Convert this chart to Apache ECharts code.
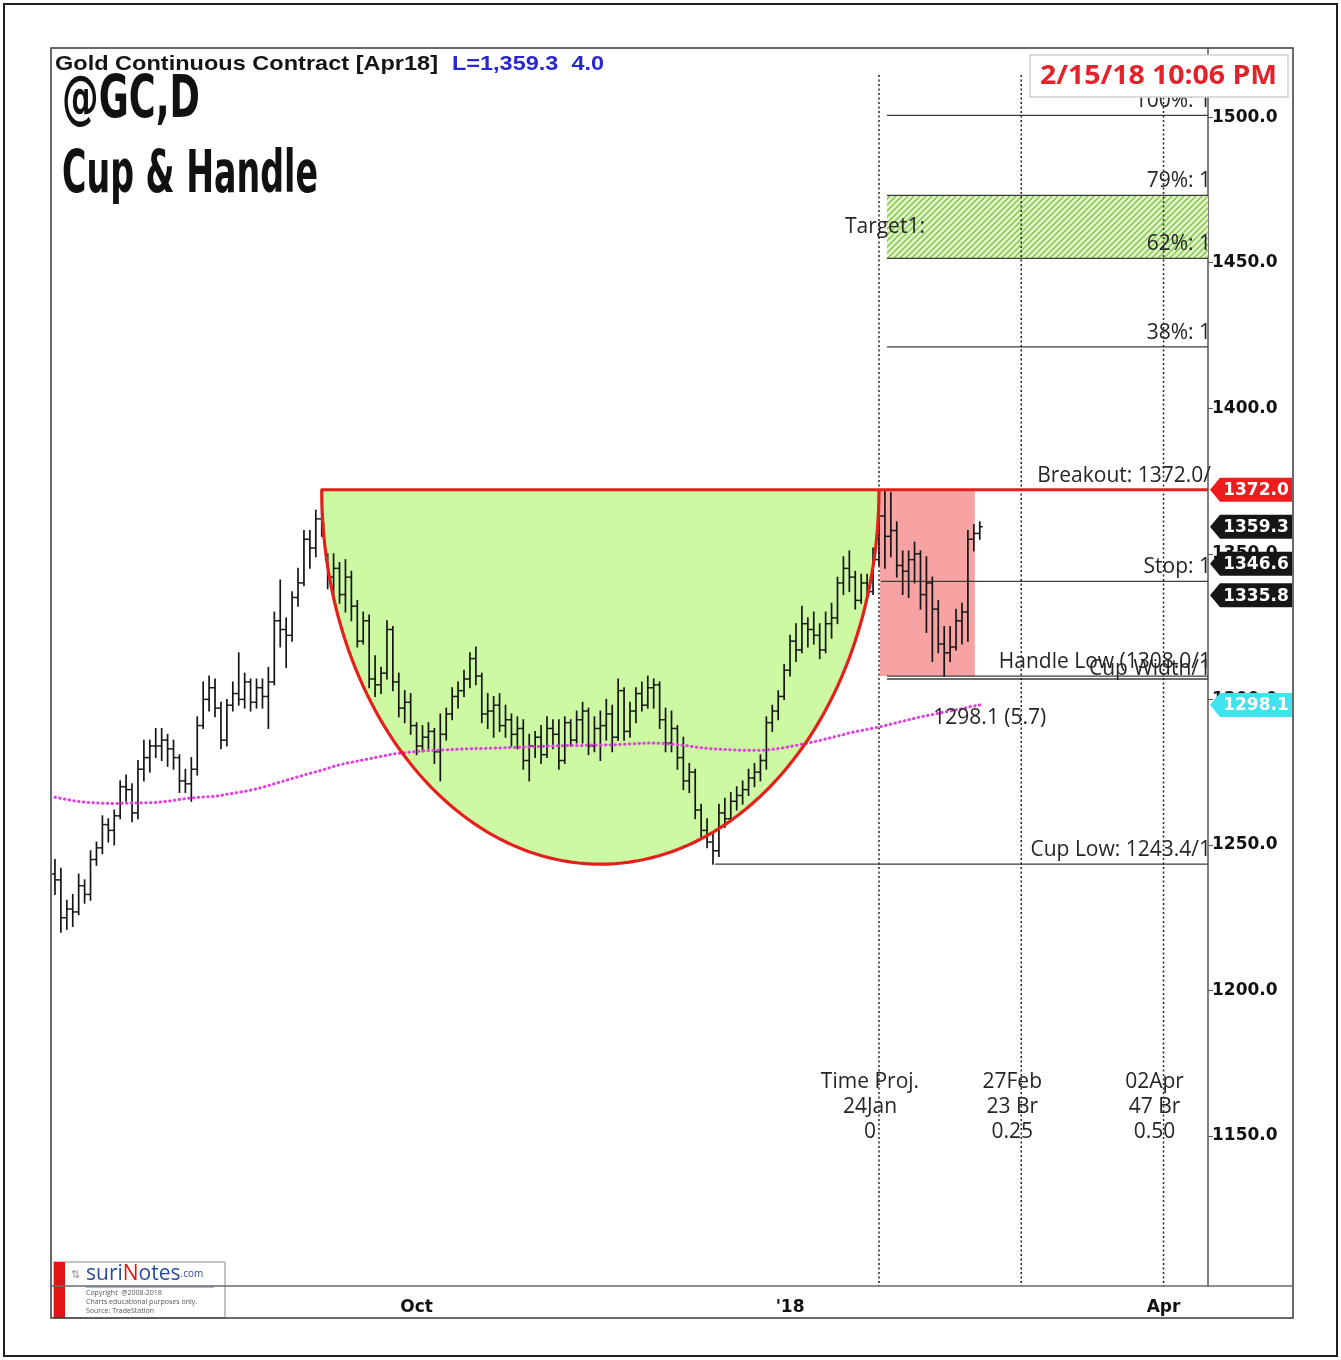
<!DOCTYPE html>
<html>
<head>
<meta charset="utf-8">
<title>@GC,D Cup & Handle</title>
<script src="https://cdn.jsdelivr.net/npm/echarts@6/dist/echarts.min.js"></script>
<style>
  html, body { margin: 0; padding: 0; background: #fff; }
  #main { width: 1341px; height: 1360px; }
</style>
</head>
<body>
<div id="main"></div>
<script>
// trading calendar (weekdays, exchange holidays removed) up to the end of the projection window
const firstDay = '2017-07-06';
const lastDay = '2018-04-11';
const holidays = ['2017-07-04', '2017-09-04', '2017-11-23', '2017-12-25', '2018-01-01', '2018-01-15'];
const monthLabels = { '2017-10-02': 'Oct', '2018-01-02': "'18", '2018-04-02': 'Apr' };

// daily bars, Jul 6 2017 .. Feb 16 2018
const open = [
  1240, 1238, 1225, 1228, 1227, 1236, 1233, 1245, 1249, 1257,
  1255, 1260, 1270, 1269, 1261, 1276, 1280, 1284, 1284, 1286,
  1283, 1280, 1272, 1271, 1276, 1291, 1300, 1304, 1297, 1286,
  1298, 1302, 1300, 1306, 1299, 1304, 1301, 1306, 1327, 1324,
  1322, 1335, 1340, 1355, 1352, 1362, 1348, 1342, 1345, 1336,
  1342, 1332, 1320, 1327, 1307, 1305, 1309, 1324, 1306, 1297,
  1299, 1291, 1284, 1287, 1289, 1282, 1288, 1295, 1301, 1303,
  1307, 1314, 1308, 1295, 1296, 1298, 1291, 1293, 1288, 1290,
  1279, 1284, 1287, 1281, 1290, 1288, 1279, 1292, 1286, 1293,
  1296, 1284, 1290, 1291, 1295, 1287, 1303, 1289, 1296, 1302,
  1298, 1304, 1305, 1293, 1285, 1290, 1280, 1272, 1275, 1262,
  1255, 1251, 1248, 1261, 1259, 1265, 1267, 1269, 1273, 1275,
  1279, 1292, 1296, 1301, 1310, 1320, 1317, 1326, 1324, 1322,
  1317, 1326, 1328, 1340, 1345, 1342, 1334, 1340, 1337, 1348,
  1363, 1356, 1358, 1346, 1344, 1348, 1350, 1336, 1340, 1331,
  1319, 1316, 1318, 1327, 1330, 1355, 1357
];
const high = [
  1245, 1242, 1231, 1233, 1240, 1238, 1248, 1251, 1260, 1259,
  1262, 1272, 1274, 1271, 1279, 1286, 1286, 1290, 1290, 1288,
  1286, 1281, 1276, 1280, 1294, 1306, 1308, 1307, 1299, 1300,
  1306, 1316, 1309, 1307, 1307, 1307, 1311, 1330, 1341, 1328,
  1337, 1345, 1358, 1358, 1365, 1372, 1350, 1350, 1347, 1348,
  1344, 1334, 1330, 1329, 1315, 1311, 1327, 1325, 1309, 1303,
  1302, 1292, 1291, 1292, 1290, 1295, 1297, 1304, 1306, 1310,
  1316, 1318, 1309, 1302, 1301, 1302, 1298, 1295, 1294, 1293,
  1288, 1289, 1291, 1294, 1293, 1293, 1294, 1293, 1296, 1299,
  1297, 1294, 1296, 1300, 1298, 1307, 1304, 1299, 1304, 1306,
  1308, 1307, 1306, 1297, 1296, 1291, 1287, 1278, 1276, 1264,
  1259, 1254, 1264, 1266, 1268, 1270, 1272, 1276, 1278, 1281,
  1294, 1298, 1303, 1312, 1322, 1326, 1332, 1328, 1330, 1326,
  1330, 1333, 1342, 1349, 1351, 1344, 1343, 1343, 1352, 1366,
  1372, 1371, 1361, 1351, 1351, 1354, 1351, 1349, 1342, 1334,
  1325, 1325, 1331, 1333, 1358, 1360, 1361
];
const low = [
  1233, 1220, 1221, 1222, 1226, 1230, 1231, 1243, 1247, 1251,
  1250, 1259, 1265, 1258, 1259, 1272, 1275, 1280, 1279, 1277,
  1276, 1268, 1268, 1265, 1274, 1290, 1296, 1294, 1283, 1284,
  1296, 1298, 1297, 1296, 1297, 1297, 1290, 1305, 1318, 1311,
  1320, 1332, 1339, 1345, 1349, 1356, 1338, 1334, 1333, 1330,
  1327, 1318, 1319, 1304, 1301, 1302, 1307, 1303, 1294, 1292,
  1288, 1281, 1282, 1283, 1278, 1272, 1286, 1293, 1297, 1301,
  1304, 1305, 1292, 1290, 1287, 1289, 1287, 1284, 1283, 1276,
  1272, 1280, 1278, 1280, 1283, 1276, 1278, 1284, 1285, 1285,
  1281, 1282, 1279, 1286, 1282, 1286, 1286, 1287, 1292, 1296,
  1297, 1297, 1290, 1282, 1282, 1276, 1269, 1268, 1259, 1252,
  1249, 1243.4, 1246, 1256, 1258, 1262, 1264, 1267, 1270, 1272,
  1276, 1289, 1293, 1300, 1308, 1313, 1316, 1318, 1319, 1314,
  1316, 1321, 1326, 1336, 1337, 1331, 1333, 1334, 1336, 1346,
  1345, 1349, 1342, 1336, 1335, 1340, 1331, 1323, 1313, 1316,
  1308, 1313, 1317, 1319, 1320, 1351, 1355
];
const close = [
  1238, 1225, 1228, 1227, 1236, 1233, 1245, 1249, 1257, 1255,
  1260, 1270, 1269, 1261, 1276, 1280, 1284, 1284, 1286, 1283,
  1280, 1272, 1271, 1276, 1291, 1300, 1304, 1297, 1286, 1298,
  1302, 1300, 1306, 1299, 1304, 1301, 1306, 1327, 1324, 1322,
  1335, 1340, 1355, 1352, 1362, 1360, 1342, 1345, 1336, 1342,
  1332, 1320, 1327, 1307, 1305, 1309, 1324, 1306, 1297, 1299,
  1291, 1284, 1287, 1289, 1282, 1288, 1295, 1301, 1303, 1307,
  1314, 1308, 1295, 1296, 1298, 1291, 1293, 1288, 1290, 1279,
  1284, 1287, 1281, 1290, 1288, 1279, 1292, 1286, 1293, 1296,
  1284, 1290, 1291, 1295, 1287, 1303, 1289, 1296, 1302, 1298,
  1304, 1305, 1293, 1285, 1290, 1280, 1272, 1275, 1262, 1255,
  1251, 1248, 1261, 1259, 1265, 1267, 1269, 1273, 1275, 1279,
  1292, 1296, 1301, 1310, 1320, 1317, 1326, 1324, 1322, 1317,
  1326, 1328, 1340, 1345, 1342, 1334, 1340, 1337, 1348, 1363,
  1356, 1358, 1346, 1344, 1348, 1350, 1336, 1340, 1331, 1319,
  1316, 1318, 1327, 1330, 1355, 1357, 1359.3
];
// moving average (magenta dotted)
const movAvg = [
  1266.4, 1266.0, 1265.6, 1265.2, 1264.9, 1264.7, 1264.5, 1264.4, 1264.3, 1264.3, 1264.2,
  1264.3, 1264.3, 1264.4, 1264.4, 1264.5, 1264.5, 1264.6, 1264.8, 1265.0, 1265.3, 1265.6,
  1265.9, 1266.1, 1266.3, 1266.5, 1266.6, 1266.7, 1267.0, 1267.4, 1267.7, 1268.1, 1268.4,
  1268.8, 1269.3, 1269.8, 1270.4, 1271.0, 1271.6, 1272.2, 1272.8, 1273.4, 1274.0, 1274.6,
  1275.1, 1275.7, 1276.3, 1277.0, 1277.5, 1278.0, 1278.4, 1278.8, 1279.2, 1279.6, 1280.0,
  1280.4, 1280.8, 1281.2, 1281.5, 1281.7, 1281.9, 1282.1, 1282.3, 1282.4, 1282.5, 1282.6,
  1282.7, 1282.8, 1282.9, 1283.0, 1283.0, 1283.1, 1283.1, 1283.2, 1283.3, 1283.3, 1283.4,
  1283.5, 1283.5, 1283.6, 1283.7, 1283.8, 1283.8, 1284.0, 1284.0, 1284.1, 1284.1, 1284.2,
  1284.2, 1284.2, 1284.3, 1284.3, 1284.3, 1284.3, 1284.4, 1284.5, 1284.6, 1284.7, 1284.8,
  1284.9, 1285.0, 1285.0, 1284.9, 1284.8, 1284.6, 1284.4, 1284.2, 1284.0, 1283.6, 1283.4,
  1283.2, 1283.0, 1282.9, 1282.8, 1282.7, 1282.6, 1282.5, 1282.5, 1282.5, 1282.5, 1282.6,
  1282.8, 1283.1, 1283.4, 1283.8, 1284.2, 1284.6, 1285.0, 1285.4, 1285.9, 1286.4, 1286.9,
  1287.4, 1287.9, 1288.5, 1288.9, 1289.3, 1289.7, 1290.1, 1290.5, 1291.0, 1291.5, 1292.0,
  1292.5, 1293.0, 1293.5, 1294.0, 1294.4, 1294.8, 1295.2, 1295.6, 1296.0, 1296.4, 1296.8,
  1297.3, 1297.7, 1298.1
];

// y axis ticks
const yTicks = [1150, 1200, 1250, 1300, 1350, 1400, 1450, 1500];
const yMin = 1098.5, yMax = 1523.4;

// pattern points
const cupStart = '2017-09-08', cupEnd = '2018-01-24';
const breakout = 1372.0, cupLow = 1243.4;
const handleStart = '2018-01-24', handleEnd = '2018-02-15', handleLow = 1308.0;
const targetFrom = '2018-01-25';
const targetZone = [1451.5, 1473.1];

// thin horizontal levels [start date, price]
const levelLines = [
  ['2018-01-25', 1500.6], ['2018-01-25', 1473.1], ['2018-01-25', 1451.5], ['2018-01-25', 1421.1],
  ['2018-01-24', 1340.5], ['2018-01-25', 1308.0], ['2018-01-25', 1307.0], ['2017-12-12', 1243.4]
];
// labels sitting on the levels, ending at the price axis
const levelLabelValues = [1500.6, 1473.1, 1451.5, 1421.1, 1372.0, 1340.5, 1308.0, 1307.0, 1243.4];
const levelLabelTexts = ['100%: 1', '79%: 1', '62%: 1', '38%: 1', 'Breakout: 1372.0/', 'Stop: 1',
  'Handle Low (1308.0/1', 'Cup Width/1', 'Cup Low: 1243.4/1'];

// time projections
const projDates = ['2018-01-24', '2018-02-27', '2018-04-02'];
const projTexts = ['Time Proj.\n24Jan\n0', '27Feb\n23 Br\n0.25', '02Apr\n47 Br\n0.50'];

// price markers on the right axis
const tagValues = [1372.0, 1359.3, 1346.6, 1335.8, 1298.1];
const tagColors = ['#ee1c1c', '#161616', '#161616', '#161616', '#3fe3ee'];

// ---------------------------------------------------------------
function buildDays(from, to) {
  const out = [];
  const d = new Date(from + 'T00:00:00Z');
  const end = new Date(to + 'T00:00:00Z');
  while (d <= end) {
    const s = d.toISOString().slice(0, 10);
    const wd = d.getUTCDay();
    if (wd !== 0 && wd !== 6 && holidays.indexOf(s) < 0) out.push(s);
    d.setUTCDate(d.getUTCDate() + 1);
  }
  return out;
}
const days = buildDays(firstDay, lastDay);
const idx = d => days.indexOf(d);
const monthStart = new Set(days.filter((d, i) => i > 0 && d.slice(5, 7) !== days[i - 1].slice(5, 7)));

const ohlc = open.map((o, i) => [i, o, high[i], low[i], close[i]]);

const noteFont = '"Open Sans", sans-serif';
const axisFont = '"DejaVu Sans", sans-serif';
const noteColor = '#262626';
const noteSize = 21;

// hatch for the target zone
const hatch = document.createElement('canvas');
hatch.width = 6; hatch.height = 6;
(function () {
  const c = hatch.getContext('2d');
  c.fillStyle = '#e4f7cf';
  c.fillRect(0, 0, 6, 6);
  c.strokeStyle = '#8acb55';
  c.lineWidth = 1.6;
  c.beginPath();
  c.moveTo(-1, 7); c.lineTo(7, -1);
  c.moveTo(-1, 1); c.lineTo(1, -1);
  c.moveTo(5, 7); c.lineTo(7, 5);
  c.stroke();
})();

const mctx = document.createElement('canvas').getContext('2d');
function fit(text, font, width) {
  mctx.font = font;
  return width / mctx.measureText(text).width;
}

function renderBar(params, api) {
  const i = api.value(0);
  const pO = api.coord([i, api.value(1)]);
  const pH = api.coord([i, api.value(2)]);
  const pL = api.coord([i, api.value(3)]);
  const pC = api.coord([i, api.value(4)]);
  const t = api.size([1, 0])[0] * 0.5;
  const x = pH[0];
  return {
    type: 'group',
    children: [
      { type: 'line', shape: { x1: x, y1: pH[1] - 0.5, x2: x, y2: pL[1] + 0.5 }, style: { stroke: '#151515', lineWidth: 1.7 } },
      { type: 'line', shape: { x1: x - t, y1: pO[1], x2: x, y2: pO[1] }, style: { stroke: '#151515', lineWidth: 1.5 } },
      { type: 'line', shape: { x1: x, y1: pC[1], x2: x + t, y2: pC[1] }, style: { stroke: '#151515', lineWidth: 1.5 } }
    ]
  };
}

function cupPoints(api) {
  const a = api.coord([api.value(0), api.value(1)]);
  const b = api.coord([api.value(2), api.value(1)]);
  const bottom = api.coord([api.value(0), api.value(3)])[1];
  const cx = (a[0] + b[0]) / 2, rx = (b[0] - a[0]) / 2, ry = bottom - a[1];
  const pts = [];
  for (let k = 0; k <= 120; k++) {
    const t = Math.PI * k / 120;
    pts.push([cx - rx * Math.cos(t), a[1] + ry * Math.sin(t)]);
  }
  return { a, pts };
}

const chart = echarts.init(document.getElementById('main'));

const option = {
  animation: false,
  backgroundColor: '#fff',
  grid: { left: 52, top: 49, right: 133, bottom: 74 },
  xAxis: {
    type: 'category',
    data: days,
    boundaryGap: true,
    axisLine: { lineStyle: { color: '#6a6a6a', width: 1.5 } },
    axisTick: {
      alignWithLabel: true,
      interval: (i, v) => monthStart.has(v),
      length: 5,
      lineStyle: { color: '#777' }
    },
    axisLabel: {
      interval: (i, v) => !!monthLabels[v],
      formatter: v => monthLabels[v] || '',
      fontFamily: axisFont, fontWeight: 'bold', fontSize: 17, color: '#111', margin: 13
    },
    splitLine: { show: false }
  },
  yAxis: {
    type: 'value',
    position: 'right',
    min: yMin, max: yMax,
    axisLine: { show: true, lineStyle: { color: '#555', width: 1.5 } },
    axisTick: { show: true, customValues: yTicks, length: 5, lineStyle: { color: '#555' } },
    axisLabel: {
      customValues: yTicks,
      formatter: v => v.toFixed(1),
      fontFamily: axisFont, fontWeight: 'bold', fontSize: 17, color: '#111', margin: 4
    },
    splitLine: { show: false }
  },
  series: [
    { // cup body
      type: 'custom', z: 1, silent: true, clip: false,
      data: [[idx(cupStart), breakout, idx(cupEnd), cupLow]],
      encode: { x: [0, 2], y: [1, 3] },
      renderItem: (params, api) => ({ type: 'polygon', shape: { points: cupPoints(api).pts }, style: { fill: '#ccf9a1' } })
    },
    { // handle box
      type: 'custom', z: 1, silent: true,
      data: [[idx(handleStart), breakout, idx(handleEnd), handleLow]],
      encode: { x: [0, 2], y: [1, 3] },
      renderItem: (params, api) => {
        const a = api.coord([api.value(0), api.value(1)]);
        const b = api.coord([api.value(2), api.value(3)]);
        return { type: 'rect', shape: { x: a[0] + 1, y: a[1], width: b[0] - a[0], height: b[1] - a[1] }, style: { fill: '#f7a3a3' } };
      }
    },
    { // target zone
      type: 'custom', z: 1, silent: true, clip: false,
      data: [[idx(targetFrom), targetZone[1], targetZone[0]]],
      encode: { x: 0, y: [1, 2] },
      renderItem: (params, api) => {
        const a = api.coord([api.value(0), api.value(1)]);
        const b = api.coord([api.value(0), api.value(2)]);
        const right = params.coordSys.x + params.coordSys.width;
        return { type: 'rect', shape: { x: a[0] + 2, y: a[1], width: right - a[0] - 2, height: b[1] - a[1] },
          style: { fill: { image: hatch, repeat: 'repeat' } } };
      }
    },
    { // thin level lines
      type: 'custom', z: 2, silent: true, clip: false,
      data: levelLines.map(l => [idx(l[0]), l[1]]),
      encode: { x: 0, y: 1 },
      renderItem: (params, api) => {
        const p = api.coord([api.value(0), api.value(1)]);
        const right = params.coordSys.x + params.coordSys.width;
        return { type: 'line', shape: { x1: p[0] + 2, y1: p[1], x2: right, y2: p[1] }, style: { stroke: '#3c3c3c', lineWidth: 1.3 } };
      }
    },
    { // time projection verticals + labels
      type: 'custom', z: 2, silent: true, clip: false,
      data: projDates.map(d => [idx(d), 1173]),
      encode: { x: 0, y: 1 },
      renderItem: (params, api) => {
        const p = api.coord([api.value(0), api.value(1)]);
        const top = api.coord([api.value(0), 1514.5])[1];
        const bottom = params.coordSys.y + params.coordSys.height;
        return {
          type: 'group',
          children: [
            { type: 'line', shape: { x1: p[0], y1: top, x2: p[0], y2: bottom }, style: { stroke: '#222', lineWidth: 1.5, lineDash: [2, 2.5] } },
            { type: 'text', z2: 5, style: { text: projTexts[params.dataIndex], x: p[0] - 9, y: p[1],
                align: 'center', textAlign: 'center', verticalAlign: 'top', textVerticalAlign: 'top',
                fontFamily: noteFont, fontSize: noteSize, lineHeight: 25, fill: noteColor } }
          ]
        };
      }
    },
    { // price bars
      type: 'custom', z: 3, silent: true,
      data: ohlc,
      encode: { x: 0, y: [1, 2, 3, 4] },
      renderItem: renderBar
    },
    { // moving average
      type: 'line', z: 4, silent: true,
      data: movAvg,
      showSymbol: false,
      lineStyle: { color: '#e23ee2', width: 3, type: [0.5, 4.3], cap: 'round' }
    },
    { // cup outline + breakout line
      type: 'custom', z: 5, silent: true, clip: false,
      data: [[idx(cupStart), breakout, idx(cupEnd), cupLow]],
      encode: { x: [0, 2], y: [1, 3] },
      renderItem: (params, api) => {
        const c = cupPoints(api);
        const right = params.coordSys.x + params.coordSys.width;
        return {
          type: 'group',
          children: [
            { type: 'polyline', shape: { points: c.pts }, style: { stroke: '#e3201b', lineWidth: 3.2, fill: null } },
            { type: 'line', shape: { x1: c.a[0] - 1, y1: c.a[1], x2: right, y2: c.a[1] }, style: { stroke: '#e3201b', lineWidth: 3 } }
          ]
        };
      }
    },
    { // level labels
      type: 'custom', z: 6, silent: true, clip: false,
      data: levelLabelValues.map(v => [0, v]),
      encode: { x: 0, y: 1 },
      renderItem: (params, api) => {
        const p = api.coord([0, api.value(1)]);
        const right = params.coordSys.x + params.coordSys.width;
        const dy = params.dataIndex === 7 ? -10 : -14;
        return { type: 'text', style: { text: levelLabelTexts[params.dataIndex], x: right + 3, y: p[1] + dy,
          align: 'right', textAlign: 'right', verticalAlign: 'middle', textVerticalAlign: 'middle',
          fontFamily: noteFont, fontSize: noteSize, fill: noteColor } };
      }
    },
    { // free notes
      type: 'custom', z: 6, silent: true, clip: false,
      data: [[idx(targetFrom), (targetZone[0] + targetZone[1]) / 2], [idx('2018-02-06'), movAvg[movAvg.length - 1]]],
      encode: { x: 0, y: 1 },
      renderItem: (params, api) => {
        const p = api.coord([api.value(0), api.value(1)]);
        if (params.dataIndex === 0) {
          return { type: 'text', style: { text: 'Target1:', x: p[0], y: p[1], align: 'center', textAlign: 'center',
            verticalAlign: 'middle', textVerticalAlign: 'middle', fontFamily: noteFont, fontSize: noteSize, fill: noteColor } };
        }
        return { type: 'text', style: { text: movAvg[movAvg.length - 1].toFixed(1) + ' (5.7)', x: p[0] + 1, y: p[1] + 13,
          align: 'left', textAlign: 'left', verticalAlign: 'middle', textVerticalAlign: 'middle',
          fontFamily: noteFont, fontSize: noteSize, fill: noteColor } };
      }
    },
    { // right-axis price tags
      type: 'custom', z: 7, silent: true, clip: false,
      data: tagValues.map(v => [0, v]),
      encode: { x: 0, y: 1 },
      renderItem: (params, api) => {
        const y = api.coord([0, api.value(1)])[1];
        const x0 = params.coordSys.x + params.coordSys.width + 2;
        const h = 12;
        return {
          type: 'group',
          children: [
            { type: 'polygon', shape: { points: [[x0, y], [x0 + 10, y - h], [x0 + 82, y - h], [x0 + 82, y + h], [x0 + 10, y + h]] },
              style: { fill: tagColors[params.dataIndex] } },
            { type: 'text', style: { text: api.value(1).toFixed(1), x: x0 + 46, y: y + 1, align: 'center', textAlign: 'center',
              verticalAlign: 'middle', textVerticalAlign: 'middle', fontFamily: axisFont, fontWeight: 'bold', fontSize: 17, fill: '#fff' } }
          ]
        };
      }
    }
  ],
  graphic: []
};

const titleFont = 'bold 21px "Liberation Sans", Arial, sans-serif';
const bigFont = 'bold 58px "DejaVu Sans Condensed", "DejaVu Sans", sans-serif';
const dateFont = 'bold 26px "Open Sans", sans-serif';
const headerText = 'Gold Continuous Contract [Apr18]';
const lastText = 'L=1,359.3  4.0';

option.graphic = [
  { type: 'rect', z: 100, shape: { x: 4, y: 4, width: 1333, height: 1352 }, style: { fill: null, stroke: '#1e1e1e', lineWidth: 2 } },
  { type: 'rect', z: 100, shape: { x: 51, y: 48, width: 1242, height: 1270 }, style: { fill: null, stroke: '#3a3a3a', lineWidth: 1.5 } },
  { type: 'line', z: 100, shape: { x1: 1208, y1: 1286, x2: 1293, y2: 1286 }, style: { stroke: '#6a6a6a', lineWidth: 1.5 } },
  { type: 'text', z: 100, x: 55, y: 64, scaleX: fit(headerText, titleFont, 383),
    style: { text: headerText, x: 0, y: 0, font: titleFont, fill: '#151515', verticalAlign: 'middle', textVerticalAlign: 'middle' } },
  { type: 'text', z: 100, x: 452, y: 64, scaleX: fit(lastText, titleFont, 152),
    style: { text: lastText, x: 0, y: 0, font: titleFont, fill: '#2727d0', verticalAlign: 'middle', textVerticalAlign: 'middle' } },
  { type: 'text', z: 100, x: 62, y: 102, scaleX: fit('@GC,D', bigFont, 138),
    style: { text: '@GC,D', x: 0, y: 0, font: bigFont, fill: '#111', verticalAlign: 'middle', textVerticalAlign: 'middle' } },
  { type: 'text', z: 100, x: 62, y: 177, scaleX: fit('Cup & Handle', bigFont, 256),
    style: { text: 'Cup & Handle', x: 0, y: 0, font: bigFont, fill: '#111', verticalAlign: 'middle', textVerticalAlign: 'middle' } },
  { type: 'rect', z: 100, shape: { x: 1030, y: 55, width: 258, height: 42 }, style: { fill: '#fff', stroke: '#d0d0d0', lineWidth: 1.5 } },
  { type: 'text', z: 101, x: 1040, y: 77, scaleX: fit('2/15/18 10:06 PM', dateFont, 237),
    style: { text: '2/15/18 10:06 PM', x: 0, y: 0, font: dateFont, fill: '#e3222a', verticalAlign: 'middle', textVerticalAlign: 'middle' } },
  { type: 'group', z: 100, x: 54, y: 1262, children: [
    { type: 'rect', shape: { x: 0, y: 0, width: 171, height: 56 }, style: { fill: '#fff', stroke: '#8a8a8a', lineWidth: 1 } },
    { type: 'rect', shape: { x: 0, y: 0, width: 11, height: 56 }, style: { fill: '#e11515' } },
    { type: 'text', style: { text: '⇅', x: 17, y: 13, fill: '#9a9a9a', fontSize: 11, verticalAlign: 'middle', textVerticalAlign: 'middle' } },
    { type: 'text', style: { text: '{a|suri}{b|N}{a|otes}{c|.com}', x: 32, y: 12, verticalAlign: 'middle', textVerticalAlign: 'middle',
      rich: {
        a: { fontFamily: noteFont, fontSize: 21, fill: '#2b4c9c', color: '#2b4c9c' },
        b: { fontFamily: noteFont, fontSize: 21, fill: '#e11515', color: '#e11515' },
        c: { fontFamily: noteFont, fontSize: 10, fill: '#2b4c9c', color: '#2b4c9c' }
      } } },
    { type: 'line', shape: { x1: 32, y1: 25, x2: 160, y2: 25 }, style: { stroke: '#5f73a8', lineWidth: 1 } },
    { type: 'text', style: { text: 'Copyright  @2008-2018', x: 32, y: 31, fill: '#555', fontSize: 7, fontFamily: noteFont, verticalAlign: 'middle', textVerticalAlign: 'middle' } },
    { type: 'text', style: { text: 'Charts educational purposes only.', x: 32, y: 40, fill: '#555', fontSize: 7, fontFamily: noteFont, verticalAlign: 'middle', textVerticalAlign: 'middle' } },
    { type: 'text', style: { text: 'Source: TradeStation', x: 32, y: 49, fill: '#555', fontSize: 7, fontFamily: noteFont, verticalAlign: 'middle', textVerticalAlign: 'middle' } }
  ] }
];

chart.setOption(option);
window.onresize = chart.resize;
</script>
</body>
</html>
